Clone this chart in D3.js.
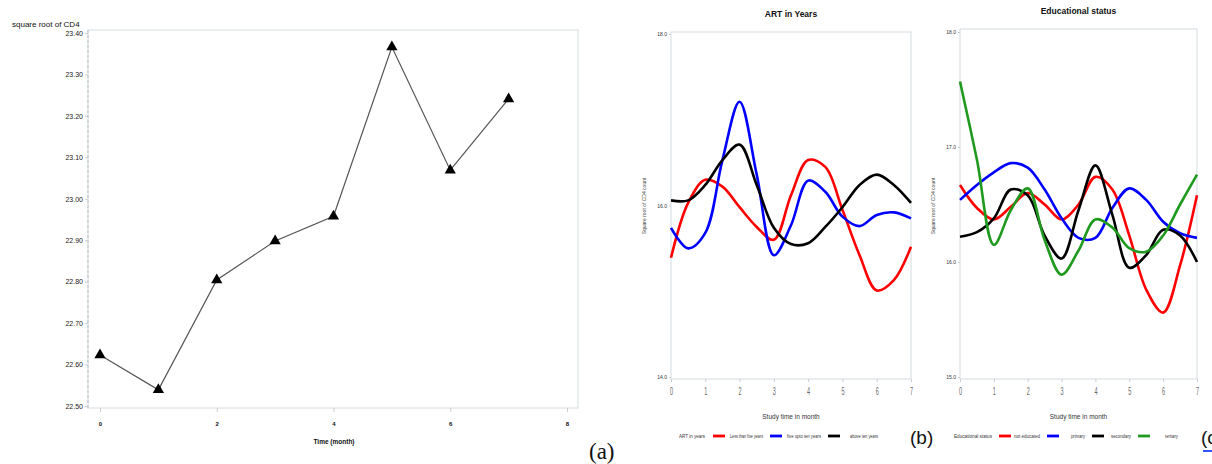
<!DOCTYPE html>
<html>
<head>
<meta charset="utf-8">
<title>CD4 trend panels</title>
<script src="https://d3js.org/d3.v7.min.js"></script>
<style>
body {margin:0; background:white;}
svg text {font-family:"Liberation Sans Narrow","Liberation Sans",Arial,sans-serif;}
.frame {fill:none; stroke:#d6dcdf; stroke-width:1;}
.tick line {stroke:#c8cdd0;}
.domain {display:none;}
.curve {fill:none; stroke-width:2.6;}
</style>
</head>
<body>
<svg width="1212" height="464"></svg>
<script>
// ---- panel (a): mean square root of CD4 by month
var aMonths = [0, 1, 2, 3, 4, 5, 6, 7];
var aValues = [22.623, 22.539, 22.804, 22.898, 22.958, 23.366, 23.069, 23.241];
var aYTicks = [22.5, 22.6, 22.7, 22.8, 22.9, 23.0, 23.1, 23.2, 23.3, 23.4];
var aXTicks = [0, 2, 4, 6, 8];

// ---- panel (b): ART in years
var bTimes = [0, 0.5, 1, 1.5, 2, 2.5, 3, 3.5, 4, 4.5, 5, 5.5, 6, 6.5, 7];
var bLess5  = [15.39, 16.03, 16.30, 16.22, 15.98, 15.75, 15.60, 16.12, 16.53, 16.45, 15.95, 15.42, 15.01, 15.13, 15.52];
var bFive10 = [15.74, 15.50, 15.68, 16.53, 17.21, 16.36, 15.42, 15.77, 16.29, 16.16, 15.87, 15.76, 15.89, 15.92, 15.85];
var bAbove10 = [16.06, 16.06, 16.24, 16.53, 16.71, 16.24, 15.74, 15.55, 15.56, 15.75, 15.98, 16.24, 16.36, 16.24, 16.03];
var bYTicks = [14, 16, 18];
var bNames = ["Less than five years", "five upto ten years", "above ten years"];

// ---- panel (c): educational status
var cTimes = [0, 0.5, 1, 1.5, 2, 2.5, 3, 3.5, 4, 4.5, 5, 5.5, 6, 6.5, 7];
var cNone      = [16.67, 16.47, 16.37, 16.48, 16.60, 16.50, 16.37, 16.50, 16.74, 16.63, 16.23, 15.76, 15.56, 15.97, 16.58];
var cPrimary   = [16.54, 16.67, 16.78, 16.86, 16.82, 16.63, 16.38, 16.21, 16.21, 16.47, 16.64, 16.54, 16.35, 16.25, 16.21];
var cSecondary = [16.22, 16.26, 16.38, 16.63, 16.58, 16.23, 16.03, 16.45, 16.84, 16.41, 15.95, 16.06, 16.28, 16.23, 16.00];
var cTertiary  = [17.57, 16.89, 16.15, 16.45, 16.64, 16.19, 15.89, 16.10, 16.37, 16.30, 16.12, 16.09, 16.23, 16.50, 16.76];
var cYTicks = [15, 16, 17, 18];
var cNames = ["not educated", "primary", "secondary", "tertiary"];

var studyTicks = [0, 1, 2, 3, 4, 5, 6, 7];
var lineColors = ["#ff0000", "#0000ff", "#000000", "#1f9a1f"];

var svg = d3.select("svg");

// ================= panel (a)
var ax = d3.scaleLinear().domain([0, 8]).range([100, 567]);
var ay = d3.scaleLinear().domain([22.5, 23.4]).range([406, 33]);

svg.append("rect").attr("class", "frame")
  .attr("x", 88).attr("y", 30).attr("width", 490).attr("height", 378);
svg.append("line")
  .attr("x1", 88).attr("x2", 88).attr("y1", 30).attr("y2", 408)
  .attr("stroke", "#b9c3c8").attr("stroke-dasharray", "3,2");

var aYAxis = svg.append("g").attr("transform", "translate(88,0)")
  .call(d3.axisLeft(ay).tickValues(aYTicks).tickFormat(d3.format(".2f")).tickSize(3).tickPadding(2));
aYAxis.selectAll("text").style("font-size", "7px").attr("fill", "#222");

var aXAxis = svg.append("g").attr("transform", "translate(0,408)")
  .call(d3.axisBottom(ax).tickValues(aXTicks).tickFormat(d3.format("d")).tickSize(4).tickPadding(10));
aXAxis.selectAll("text").style("font-size", "6px").style("font-weight", "bold").attr("fill", "#111");

svg.append("text").attr("x", 12).attr("y", 27)
  .style("font-size", "8px").attr("fill", "#111").text("square root of CD4");
svg.append("text").attr("x", 334).attr("y", 444).attr("text-anchor", "middle")
  .style("font-size", "6.5px").style("font-weight", "bold").attr("fill", "#111").text("Time (month)");

var aLine = d3.line().x(function(d, i) { return ax(aMonths[i]); }).y(function(d) { return ay(d); });
svg.append("path").datum(aValues)
  .attr("d", aLine).attr("fill", "none").attr("stroke", "#555").attr("stroke-width", 1.2);

svg.selectAll(".tri").data(aValues).enter().append("path")
  .attr("class", "tri")
  .attr("transform", function(d, i) { return "translate(" + ax(aMonths[i]) + "," + ay(d) + ")"; })
  .attr("d", d3.symbol().type(d3.symbolTriangle).size(55))
  .attr("fill", "#000");

svg.append("text").attr("x", 589).attr("y", 459)
  .style("font-family", "'Liberation Serif','DejaVu Serif',serif").style("font-size", "23px")
  .attr("fill", "#111").text("(a)");

// ================= smooth-curve panels
function fitText(sel, w) {
  sel.attr("textLength", w).attr("lengthAdjust", "spacingAndGlyphs");
}

function curvePanel(opt) {
  var x = d3.scaleLinear().domain([0, 7]).range([opt.left, opt.right]);
  var y = d3.scaleLinear().domain(opt.yDomain).range([opt.bottom, opt.top]);

  svg.append("rect").attr("class", "frame")
    .attr("x", opt.left).attr("y", opt.frameTop)
    .attr("width", opt.right - opt.left).attr("height", opt.bottom + 2 - opt.frameTop);

  var yAxis = svg.append("g").attr("transform", "translate(" + opt.left + ",0)")
    .call(d3.axisLeft(y).tickValues(opt.yTicks).tickFormat(d3.format(".1f")).tickSize(2).tickPadding(2));
  yAxis.selectAll("text").style("font-size", "5px").attr("fill", "#333");

  var xAxis = svg.append("g").attr("transform", "translate(0," + (opt.bottom + 2) + ")")
    .call(d3.axisBottom(x).tickValues(studyTicks).tickFormat(d3.format("d")).tickSize(3).tickPadding(5));
  xAxis.selectAll("text").style("font-size", "11px").attr("fill", "#666")
    .attr("transform", "scale(0.5,1)");

  svg.append("text").attr("x", (opt.left + opt.right) / 2).attr("y", opt.titleY).attr("text-anchor", "middle")
    .style("font-size", "8.5px").style("font-weight", "bold").attr("fill", "#111").text(opt.title);

  svg.append("text").attr("x", (opt.left + opt.right) / 2).attr("y", 419).attr("text-anchor", "middle")
    .style("font-size", "6.5px").attr("fill", "#333").text("Study time in month");

  svg.append("text")
    .attr("transform", "translate(" + (opt.left - 25) + "," + 206 + ") rotate(-90)")
    .attr("text-anchor", "middle").style("font-size", "5px").attr("fill", "#444")
    .text("Square root of CD4 count");

  var line = d3.line()
    .x(function(d, i) { return x(opt.times[i]); })
    .y(function(d) { return y(d); })
    .curve(d3.curveCatmullRom.alpha(0.5));

  svg.selectAll(null).data(opt.series).enter().append("path")
    .attr("class", "curve")
    .attr("d", function(d) { return line(d); })
    .attr("stroke", function(d, i) { return lineColors[i]; });

  // legend
  var lg = svg.append("g");
  fitText(lg.append("text").attr("x", opt.legend.x).attr("y", 438)
    .style("font-size", "5.5px").attr("fill", "#333").text(opt.legend.title), opt.legend.titleW);
  opt.names.forEach(function(n, i) {
    var lx = opt.legend.swatch[i];
    lg.append("line").attr("x1", lx).attr("x2", lx + 12).attr("y1", 436).attr("y2", 436)
      .attr("stroke", lineColors[i]).attr("stroke-width", 2.8);
    fitText(lg.append("text").attr("x", opt.legend.label[i]).attr("y", 438)
      .style("font-size", "5.5px").attr("fill", "#333").text(n), opt.legend.labelW[i]);
  });
}

curvePanel({
  left: 671, right: 911, top: 34, bottom: 377, frameTop: 32, titleY: 17,
  yDomain: [14, 18], yTicks: bYTicks, title: "ART in Years",
  times: bTimes, series: [bLess5, bFive10, bAbove10], names: bNames,
  legend: {x: 679, titleW: 26, title: "ART in years",
           swatch: [713, 770, 828], label: [730, 787, 850], labelW: [33, 34, 28]}
});

curvePanel({
  left: 960, right: 1197, top: 32, bottom: 377, frameTop: 29, titleY: 14,
  yDomain: [15, 18], yTicks: cYTicks, title: "Educational status",
  times: cTimes, series: [cNone, cPrimary, cSecondary, cTertiary], names: cNames,
  legend: {x: 954, titleW: 38, title: "Educational status",
           swatch: [999, 1047, 1092, 1138], label: [1014, 1071, 1111, 1165], labelW: [26, 14, 20, 13]}
});

svg.append("text").attr("x", 910).attr("y", 444)
  .style("font-family", "'Liberation Sans','DejaVu Sans',sans-serif").style("font-size", "19px")
  .attr("fill", "#111").text("(b)");
svg.append("text").attr("x", 1201).attr("y", 444)
  .style("font-family", "'Liberation Sans','DejaVu Sans',sans-serif").style("font-size", "19px")
  .attr("fill", "#111").text("(c)");
svg.append("line").attr("x1", 1203).attr("x2", 1212).attr("y1", 451).attr("y2", 451)
  .attr("stroke", "#3355ff").attr("stroke-width", 2);
</script>
</body>
</html>
